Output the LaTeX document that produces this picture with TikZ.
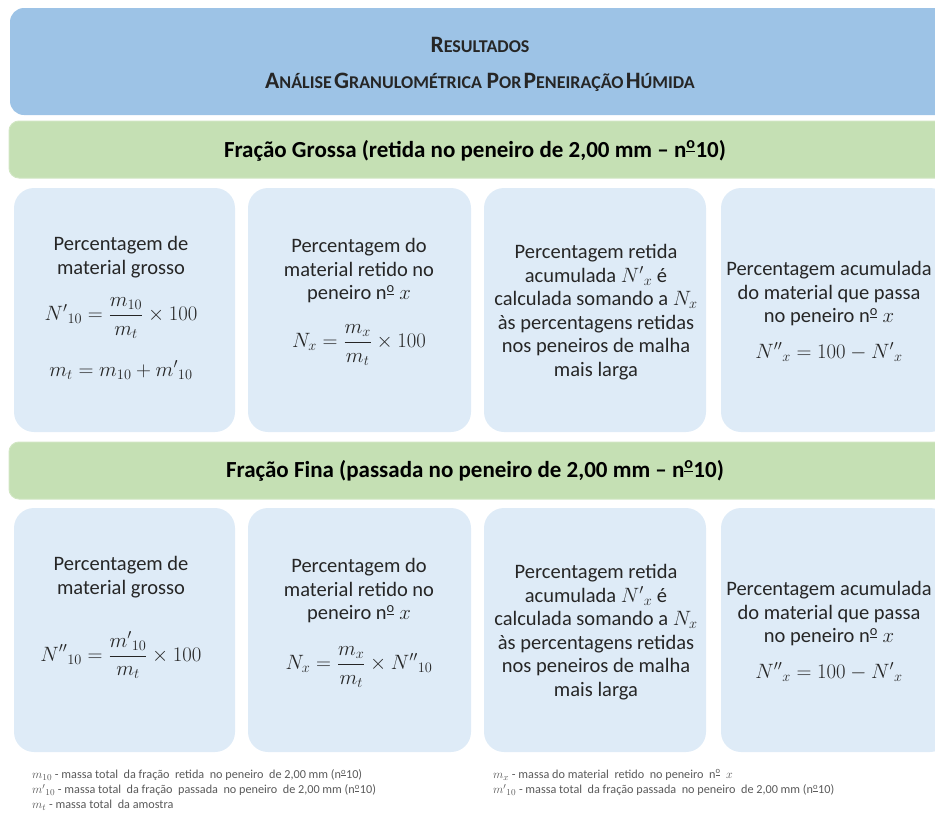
\documentclass[tikz,border=0pt]{standalone}
\usepackage{fontspec}
\setmainfont{Carlito}
\usepackage{amsmath}
\definecolor{headblue}{HTML}{9DC3E6}
\definecolor{bargreen}{HTML}{C5E0B4}
\definecolor{cellblue}{HTML}{DEEBF7}
\definecolor{ink}{HTML}{262626}
\definecolor{noteink}{HTML}{595959}
% fake small capitals: full-size initial, reduced capitals for the rest
\newcommand\fakesc[2]{{\fontsize{23.5}{26}\selectfont #1}{\fontsize{18}{26}\selectfont #2}}
% numero sign with underlined raised o
\newcommand\nro{n\textsuperscript{\underline{o}}}
\tikzset{
  header/.style={rectangle, fill=headblue, rounded corners=14pt, inner sep=0pt},
  bar/.style={rectangle, fill=bargreen, draw=bargreen!80!white, line width=1pt, rounded corners=10pt, inner sep=0pt},
  cell/.style={rectangle, fill=cellblue, rounded corners=20pt, inner sep=0pt,
    minimum height=244pt},
  celltext/.style={align=center, text=ink, font=\fontsize{20.5}{23.5}\selectfont, inner sep=0pt},
  formula/.style={text=ink, font=\fontsize{19.5}{22.5}\selectfont, inner sep=0pt},
  bartext/.style={text=black, font=\bfseries\fontsize{23}{26}\selectfont, inner sep=0pt},
  titletext/.style={text=black!85, font=\bfseries, inner sep=0pt},
  note/.style={anchor=west, text=noteink, font=\fontsize{12.2}{13}\selectfont, inner sep=0pt}
}
\begin{document}
\begin{tikzpicture}[x=1pt,y=-1pt]
\useasboundingbox (0,0) rectangle (935,822);
\clip (0,0) rectangle (935,822);

% title block
\node[header, minimum width=940pt, minimum height=107pt] (head) at (480,61.5) {};
\node[titletext] (title) at (480,45) {\fakesc{R}{ESULTADOS}};
\node[titletext] (subtitle) at (480,82) {\fakesc{A}{NÁLISE}\ \fakesc{G}{RANULOMÉTRICA}\ \ \fakesc{P}{OR}\ \fakesc{P}{ENEIRAÇÃO}\ \fakesc{H}{ÚMIDA}};

% coarse fraction
\node[bar, minimum width=941pt, minimum height=57pt] (bar1) at (479.5,149.5) {};
\node[bartext] (bar1t) at (475,151) {Fração Grossa (retida no peneiro de 2,00 mm – \nro10)};

\node[cell, minimum width=221pt] (c11) at (124.5,310) {};
\node[cell, minimum width=223pt] (c12) at (359.5,310) {};
\node[cell, minimum width=222pt] (c13) at (595,310) {};
\node[cell, minimum width=229pt] (c14) at (835.5,310) {};

\node[celltext] (t11) at (121,257) {Percentagem de\\material grosso};
\node[formula] (f11) at (121,318) {$\displaystyle {N'}_{10} = \frac{m_{10}}{m_t}\times 100$};
\node[formula] (g11) at (121,370) {$m_t = m_{10} + {m'}_{10}$};

\node[celltext] (t12) at (359,271) {Percentagem do\\material retido no\\peneiro \nro\ $x$};
\node[formula] (f12) at (359,345) {$\displaystyle N_x = \frac{m_x}{m_t}\times 100$};

\node[celltext] (t13) at (596,312) {Percentagem retida\\acumulada ${N'}_x$ é\\calculada somando a $N_x$\\às percentagens retidas\\nos peneiros de malha\\mais larga};

\node[celltext] (t14) at (829,294) {Percentagem acumulada\\do material que passa\\no peneiro \nro\ $x$};
\node[formula] (f14) at (829,352) {${N''}_x = 100 - {N'}_x$};

% fine fraction
\node[bar, minimum width=941pt, minimum height=57pt] (bar2) at (479.5,470.5) {};
\node[bartext] (bar2t) at (475,471) {Fração Fina (passada no peneiro de 2,00 mm – \nro10)};

\node[cell, minimum width=221pt] (c21) at (124.5,630) {};
\node[cell, minimum width=223pt] (c22) at (359.5,630) {};
\node[cell, minimum width=222pt] (c23) at (595,630) {};
\node[cell, minimum width=229pt] (c24) at (835.5,630) {};

\node[celltext] (t21) at (121,577) {Percentagem de\\material grosso};
\node[formula] (f21) at (121,655) {$\displaystyle {N''}_{10} = \frac{{m'}_{10}}{m_t}\times 100$};

\node[celltext] (t22) at (359,591) {Percentagem do\\material retido no\\peneiro \nro\ $x$};
\node[formula] (f22) at (359,667) {$\displaystyle N_x = \frac{m_x}{m_t}\times {N''}_{10}$};

\node[celltext] (t23) at (596,632) {Percentagem retida\\acumulada ${N'}_x$ é\\calculada somando a $N_x$\\às percentagens retidas\\nos peneiros de malha\\mais larga};

\node[celltext] (t24) at (829,614) {Percentagem acumulada\\do material que passa\\no peneiro \nro\ $x$};
\node[formula] (f24) at (829,672) {${N''}_x = 100 - {N'}_x$};

% legend of symbols
\node[note] (n1) at (32,775) {$m_{10}$ - massa total\ \ da fração\ \ retida\ \ no peneiro\ \ de 2,00 mm (\nro10)};
\node[note] (n2) at (32,790) {${m'}_{10}$ - massa total\ \ da fração\ \ passada\ \ no peneiro\ \ de 2,00 mm (\nro10)};
\node[note] (n3) at (32,805) {$m_t$ - massa total\ \ da amostra};
\node[note] (n4) at (493,775) {$m_x$ - massa do material\ \ retido\ \ no peneiro\ \ \nro\ \ $x$};
\node[note] (n5) at (493,790) {${m'}_{10}$ - massa total\ \ da fração passada\ \ no peneiro\ \ de 2,00 mm (\nro10)};
\end{tikzpicture}
\end{document}
